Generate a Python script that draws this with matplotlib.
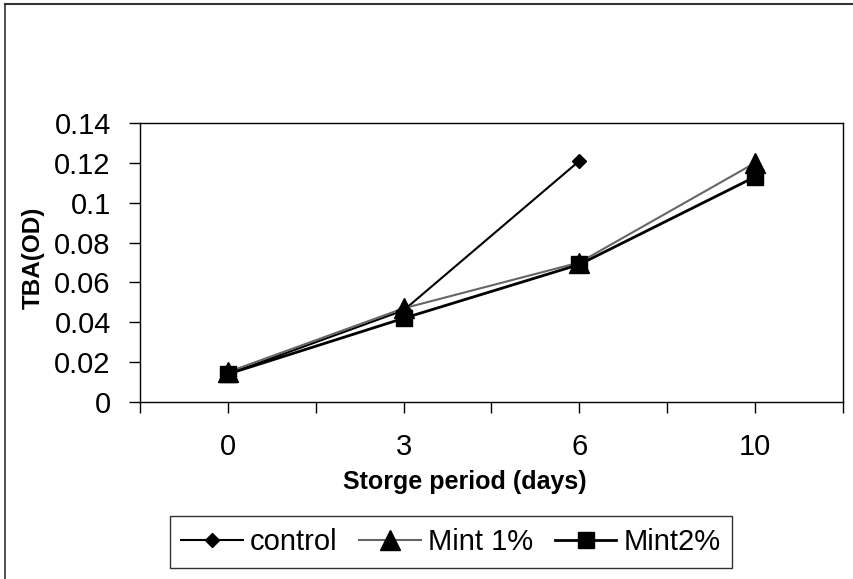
import numpy as np
import matplotlib
matplotlib.use("Agg")
import matplotlib.pyplot as plt
from matplotlib.lines import Line2D

plt.rcParams['font.family'] = ['Liberation Sans', 'DejaVu Sans']

# data
days = ['0', '3', '6', '10']
control = [0.014, 0.046, 0.121]
mint1 = [0.015, 0.047, 0.070, 0.120]
mint2 = [0.014, 0.042, 0.069, 0.113]

fig = plt.figure(figsize=(8.54, 5.79), dpi=100)
ax = fig.add_axes([140/854, 1-402/579, 703/854, (402-123)/579])

x = np.arange(len(days))
ax.plot(x[:len(control)], control, color='black', lw=1.5, marker='D', ms=7,
        label='control', zorder=3)
ax.plot(x, mint1, color='#666666', lw=1.5, marker='^', ms=14, mfc='black',
        mec='black', label='Mint 1%', zorder=4)
ax.plot(x, mint2, color='black', lw=2, marker='s', ms=12, label='Mint2%', zorder=5)

ax.set_xlim(-0.5, 3.5)
ax.set_ylim(0, 0.14)
ax.set_yticks(np.arange(0, 0.141, 0.02))
ax.set_yticklabels(['0', '0.02', '0.04', '0.06', '0.08', '0.1', '0.12', '0.14'])
ax.set_xticks(x)
ax.set_xticklabels(days)
ax.set_xticks(np.arange(-0.5, 3.6, 1), minor=True)
ax.tick_params(axis='both', which='both', direction='out', length=8, width=1,
               labelsize=21, colors='black')
ax.tick_params(axis='y', pad=13)
ax.tick_params(axis='x', pad=14)
for s in ax.spines.values():
    s.set_linewidth(1)

ax.set_xlabel('Storge period (days)', fontsize=18, fontweight='bold')
ax.xaxis.set_label_coords((465-140)/703, -(470-402)/279)
ax.set_ylabel('TBA(OD)', fontsize=17.5, fontweight='bold')
ax.yaxis.set_label_coords(-(140-45)/703, (402-258)/279)

leg = fig.legend(loc='center', bbox_to_anchor=(451/854, 1-542/579), ncol=3,
                 fontsize=21, frameon=True, fancybox=False, edgecolor='black',
                 handlelength=2.1, handletextpad=0.25, columnspacing=0.75,
                 borderpad=0.4, borderaxespad=0)
leg.get_frame().set_linewidth(1)

# outer border remnants (top and left)
fig.add_artist(Line2D([5/854, 1], [1-4/579, 1-4/579], color='#333333', lw=1.5))
fig.add_artist(Line2D([5/854, 5/854], [0, 1-4/579], color='#333333', lw=1.2))

fig.savefig('out.png', dpi=100)
